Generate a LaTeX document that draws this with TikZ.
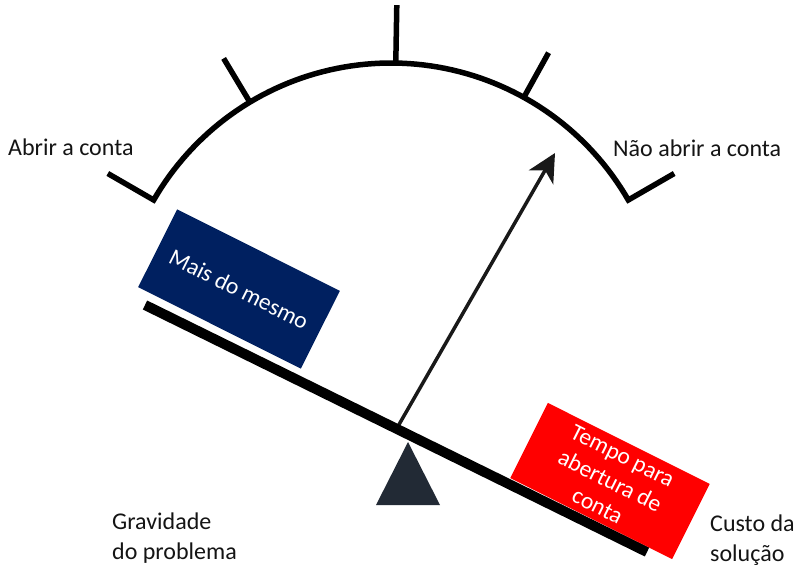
\documentclass[tikz,border=0pt]{standalone}
\usepackage{fontspec}
\setmainfont{Carlito}
\usetikzlibrary{arrows.meta}
\definecolor{navybox}{HTML}{002060}
\definecolor{redbox}{HTML}{FF0000}
\definecolor{fulcrum}{HTML}{222A35}
\begin{document}
\begin{tikzpicture}[x=1pt,y=-1pt,
  lbl/.style={font=\fontsize{24}{30}\selectfont, inner sep=0pt, text=black!92, align=left},
  boxlbl/.style={font=\fontsize{23.5}{28}\selectfont, text=white, inner sep=0pt, align=center, rotate=-26.6},
  gauge/.style={line width=5.5pt, line join=miter, draw=black},
  pointer/.style={line width=3.5pt, draw=black!90, -{Stealth[length=28pt,width=28pt,inset=8pt]}},
  beamline/.style={line width=10pt, draw=black}]
\useasboundingbox (0,0) rectangle (800,575);
% gauge arc with end ticks
\draw[gauge] ({391+327*cos(150)},{337-327*sin(150)})
  -- plot[domain=150:30, samples=80] ({391+274*cos(\x)},{337-274*sin(\x)})
  -- ({391+327*cos(30)},{337-327*sin(30)});
% inner ticks
\draw[gauge] ({391+274*cos(121)},{337-274*sin(121)}) -- ({391+325*cos(121)},{337-325*sin(121)});
\draw[gauge] ({391+274*cos(89)},{337-274*sin(89)}) -- ({391+332*cos(89)},{337-332*sin(89)});
\draw[gauge] ({391+274*cos(61)},{337-274*sin(61)}) -- ({391+325*cos(61)},{337-325*sin(61)});
% fulcrum
\fill[fulcrum] (408,442) -- (440,505) -- (376,505) -- cycle;
% pointer
\coordinate (pivot) at (397,428);
\coordinate (tip) at (555,153);
\draw[pointer] (pivot) -- (tip);
% beam
\coordinate (beamL) at (145,305);
\coordinate (beamR) at (647,552);
\draw[beamline] (beamL) -- (beamR);
% boxes
\node[boxlbl, fill=navybox, minimum width=182pt, minimum height=87pt] (mais) at (239,289) {Mais do mesmo};
\node[boxlbl, fill=redbox, minimum width=181pt, minimum height=84pt] (tempo) at (610,481) {Tempo para\\abertura de\\conta};
% labels
\node[lbl, anchor=base west] (abrir) at (8,155) {Abrir a conta};
\node[lbl, anchor=base west] (naoabrir) at (613,157) {Não abrir a conta};
\node[lbl, anchor=base west] (grav) at (112,559) {Gravidade\\do problema};
\node[lbl, anchor=base west] (custo) at (710,561) {Custo da\\solução};
\end{tikzpicture}
\end{document}
